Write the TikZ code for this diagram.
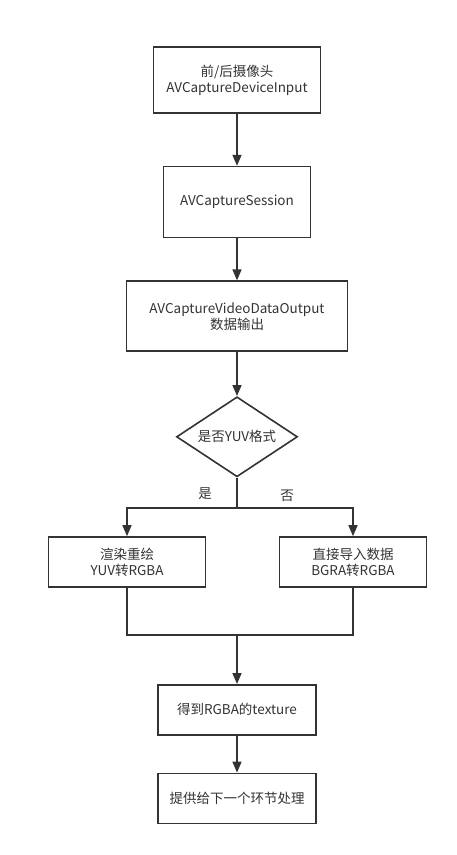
\documentclass[tikz,border=0pt]{standalone}
\usepackage{fontspec}
\setmainfont{Noto Sans CJK SC}
\usepackage{xcolor}
\usetikzlibrary{arrows.meta, positioning, shapes.geometric, calc}

\definecolor{linegray}{HTML}{333333}

\begin{document}
\begin{tikzpicture}[x=1pt, y=1pt, line width=1.6pt, draw=linegray, text=linegray,
        >={Triangle[length=11pt, width=9pt]},
        box/.style={draw, rectangle, align=center, font=\fontsize{13.5pt}{16pt}\selectfont},
        decision/.style={draw, diamond, aspect=1.5, inner sep=0pt, minimum width=121pt, minimum height=80pt, font=\fontsize{13.5pt}{16pt}\selectfont},
        tag/.style={font=\fontsize{13.5pt}{16pt}\selectfont}]
        \useasboundingbox (0,0) rectangle (457,-855);

        % Capture chain
        \node (cam) [box, minimum width=167pt, minimum height=66pt] at (237,-80) {前/后摄像头\\AVCaptureDeviceInput};
        \node (session) [box, minimum width=147pt, minimum height=71pt, below=52pt of cam] {AVCaptureSession};
        \node (output) [box, minimum width=221pt, minimum height=70pt, below=42pt of session] {AVCaptureVideoDataOutput\\数据输出};

        % Decision
        \node (isyuv) [decision, below=44pt of output] {是否YUV格式};
        \coordinate (split) at (237,-508);

        % Branches
        \node (render) [box, minimum width=157pt, minimum height=50pt] at (127,-562) {渲染重绘\\YUV转RGBA};
        \node (import) [box, minimum width=147pt, minimum height=50pt] at (353,-562) {直接导入数据\\BGRA转RGBA};
        \node (yes) [tag] at (205,-494) {是};
        \node (no) [tag] at (287,-496) {否};

        % Result
        \coordinate (merge) at (237,-635);
        \node (texture) [box, minimum width=158pt, minimum height=50pt, below=49pt of merge] {得到RGBA的texture};
        \node (next) [box, minimum width=158pt, minimum height=50pt, below=37pt of texture] {提供给下一个环节处理};

        % Arrows
        \draw[->] (cam) -- (session);
        \draw[->] (session) -- (output);
        \draw[->] (output) -- (isyuv);
        \draw (isyuv) -- (split);
        \draw[->] (split) -| (render);
        \draw[->] (split) -| (import);
        \draw[line width=1.2pt] (render) |- (merge) -| (import);
        \draw[->] (merge) -- (texture);
        \draw[->] (texture) -- (next);
    \end{tikzpicture}
\end{document}
